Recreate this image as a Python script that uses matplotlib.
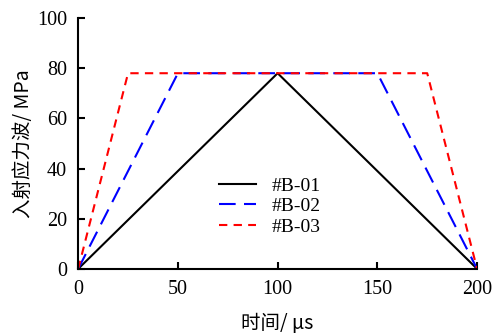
import matplotlib
matplotlib.use("Agg")
import matplotlib.pyplot as plt

t_b01 = [0, 100, 200]
s_b01 = [0, 78, 0]
t_b02 = [0, 50, 150, 200]
s_b02 = [0, 78, 78, 0]
t_b03 = [0, 25, 175, 200]
s_b03 = [0, 78, 78, 0]
labels = ["#B-01", "#B-02", "#B-03"]

plt.rcParams['font.family'] = ['Liberation Serif', 'Noto Sans CJK SC']

fig = plt.figure(figsize=(4.98, 3.34), dpi=100)
ax = fig.add_axes([0.157, 0.195, 0.801, 0.751])

ax.plot(t_b01, s_b01, color='black', lw=1.5, label=labels[0])
ax.plot(t_b02, s_b02, color='blue', lw=1.5, dashes=(8, 4), label=labels[1])
ax.plot(t_b03, s_b03, color='red', lw=1.5, dashes=(4, 3), label=labels[2])

ax.set_xlim(0, 200)
ax.set_ylim(0, 100)
ax.set_xticks([0, 50, 100, 150, 200])
ax.set_yticks([0, 20, 40, 60, 80, 100])
ax.spines['top'].set_visible(False)
ax.spines['right'].set_visible(False)
for s in ['left', 'bottom']:
    ax.spines[s].set_linewidth(1.5)
ax.tick_params(direction='in', width=1.5, length=5, labelsize=14.5, pad=8)
ax.set_xlabel('时间/ μs', fontsize=14, labelpad=10, family=['Noto Sans CJK SC', 'Liberation Serif'])
ax.set_ylabel('入射应力波/ MPa', fontsize=14, labelpad=2, family=['Noto Sans CJK SC', 'Liberation Serif'])

ax.legend(loc='upper left', bbox_to_anchor=(0.32, 0.42), frameon=False, fontsize=14,
          handlelength=1.9, labelspacing=0.15, borderpad=0.2, handletextpad=0.8)

fig.savefig('out.png', dpi=100)
